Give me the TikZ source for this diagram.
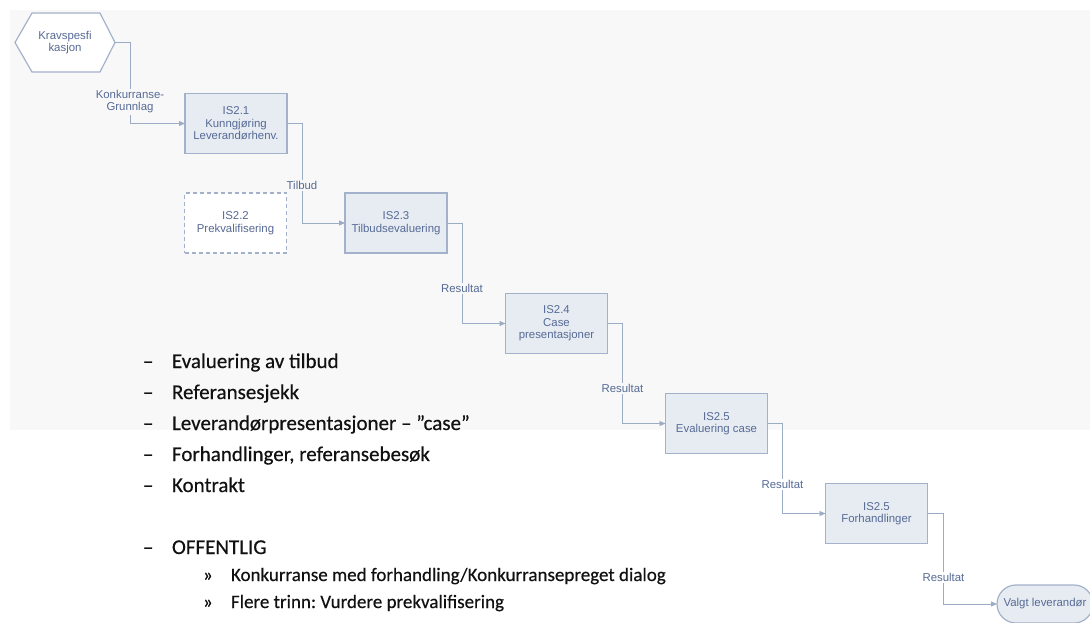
\documentclass[tikz,border=0pt]{standalone}
\usepackage{fontspec}
\setmainfont{Liberation Sans}
\newfontfamily\slidefont[BoldFont=Carlito,BoldFeatures={FakeBold=0.4}]{Carlito}
\usetikzlibrary{arrows.meta,calc}

\definecolor{pagegrey}{HTML}{F8F8F8}
\definecolor{flowline}{HTML}{9DACC5}
\definecolor{boxfill}{HTML}{E7ECF3}
\definecolor{boxedge}{HTML}{A3B2CA}
\definecolor{flowtext}{HTML}{566A95}
\definecolor{slidetext}{HTML}{111111}

\frenchspacing
\begin{document}
\begin{tikzpicture}[x=1pt,y=-1pt,
  every node/.style={inner sep=0pt,outer sep=0pt},
  diagfont/.style={font=\fontsize{11.4}{12.5}\selectfont,text=flowtext},
  procbox/.style={diagfont,draw=boxedge,fill=boxfill,line width=1.2pt,
    minimum width=102pt,minimum height=60pt,align=center},
  optbox/.style={procbox,fill=white,dashed,dash pattern=on 4pt off 3pt},
  termbox/.style={diagfont,draw=boxedge,fill=boxfill,line width=1.2pt,
    minimum width=96pt,minimum height=38pt,rounded corners=19pt},
  hexlabel/.style={diagfont,minimum width=100pt,minimum height=59pt,align=center},
  flow/.style={draw=flowline,line width=0.9pt,-{Triangle[length=6pt,width=5pt]}},
  flowlabel/.style={diagfont,fill=pagegrey,inner sep=1.5pt,align=center},
  flowlabelw/.style={flowlabel,fill=white},
  dashmark/.style={font=\slidefont\bfseries\fontsize{21}{24}\selectfont,text=slidetext,anchor=base west},
  item/.style={font=\slidefont\bfseries\fontsize{21}{24}\selectfont,text=slidetext,anchor=base west},
  subitem/.style={font=\slidefont\bfseries\fontsize{19}{22}\selectfont,text=slidetext,anchor=base west}
]
% page and the grey slide area
\useasboundingbox (0,0) rectangle (1090,623);
\fill[white] (0,0) rectangle (1090,623);
\fill[pagegrey] (10,10) rectangle (1090,430);

% requirement specification (hexagon)
\draw[draw=boxedge,fill=white,line width=1.2pt]
  (15,42.5) -- (32,13) -- (100,13) -- (115,42.5) -- (100,72) -- (32,72) -- cycle;
\node[hexlabel] (spec) at (65,42.5) {Kravspesfi\\kasjon};

% process steps
\node[procbox] (is21) at (236,123.5) {IS2.1\\Kunngjøring\\Leverandørhenv.};
\node[optbox]  (is22) at (235.5,223) {IS2.2\\Prekvalifisering};
\node[procbox] (is23) at (396,223) {IS2.3\\Tilbudsevaluering};
\node[procbox] (is24) at (556.5,323.5) {IS2.4\\Case\\presentasjoner};
\node[procbox] (is25a) at (716.5,423.5) {IS2.5\\Evaluering case};
\node[procbox] (is25b) at (876.5,513.5) {IS2.5\\Forhandlinger};
\node[termbox] (done) at (1045,604) {Valgt leverandør};

% flows between steps
\draw[flow] (spec.east) -- ++(15,0) |- node[flowlabel,pos=0.365] {Konkurranse-\\Grunnlag} (is21.west);
\draw[flow] (is21.east) -- ++(15,0) |- node[flowlabel,pos=0.31] {Tilbud} (is23.west);
\draw[flow] (is23.east) -- ++(15,0) |- node[flowlabel,pos=0.325] {Resultat} (is24.west);
\draw[flow] (is24.east) -- ++(15,0) |- node[flowlabel,pos=0.325] {Resultat} (is25a.west);
\draw[flow] (is25a.east) -- ++(15,0) |- node[flowlabelw,pos=0.34] {Resultat} (is25b.west);
\draw[flow] (is25b.east) -- ++(16,0) |- node[flowlabelw,pos=0.355] {Resultat} (done.west);

% bullet list
\node[dashmark] (d1) at (143,368) {–};
\node[item] (b1) at (172,368) {Evaluering av tilbud};
\node[dashmark] (d2) at (143,399) {–};
\node[item] (b2) at (172,399) {Referansesjekk};
\node[dashmark] (d3) at (143,430) {–};
\node[item] (b3) at (172,430) {Leverandørpresentasjoner – ”case”};
\node[dashmark] (d4) at (143,461) {–};
\node[item] (b4) at (172,461) {Forhandlinger, referansebesøk};
\node[dashmark] (d5) at (143,492) {–};
\node[item] (b5) at (172,492) {Kontrakt};
\node[dashmark] (d6) at (143,554) {–};
\node[item] (b6) at (172,554) {OFFENTLIG};
\node[subitem] (s1m) at (203,581) {»};
\node[subitem] (s1) at (231,581) {Konkurranse med forhandling/Konkurransepreget dialog};
\node[subitem] (s2m) at (203,608) {»};
\node[subitem] (s2) at (231,608) {Flere trinn: Vurdere prekvalifisering};
\end{tikzpicture}
\end{document}
